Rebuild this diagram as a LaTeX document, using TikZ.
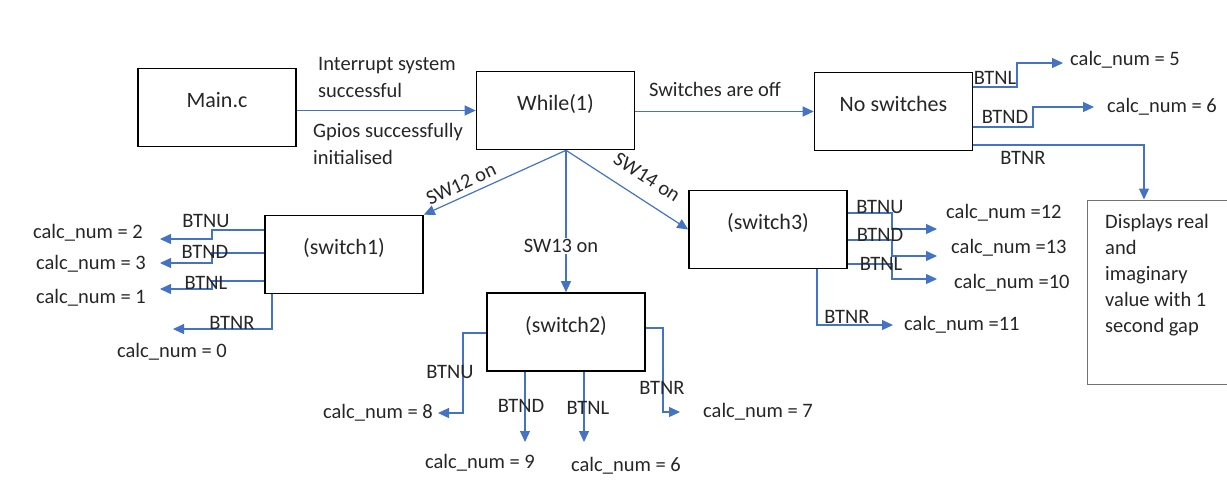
\documentclass[tikz,border=0pt]{standalone}
\usepackage{fontspec}
\setmainfont{Carlito}
\usetikzlibrary{arrows.meta}
\definecolor{lnblue}{HTML}{4472C4}
\definecolor{txtgray}{HTML}{262626}
\tikzstyle{blk}=[draw=black, line width=1.6pt, minimum width=158pt, minimum height=78pt, text=txtgray, font=\fontsize{22}{26}\selectfont, text height=15pt, text depth=15pt]
\tikzstyle{dispbox}=[draw=black!55, line width=1pt, minimum width=153pt, minimum height=184pt]
\tikzstyle{txt}=[inner sep=0pt, text=txtgray, font=\fontsize{20.5}{27}\selectfont]
\tikzstyle{link}=[-{Triangle[length=11pt,width=10pt]}, lnblue, line width=1.2pt]

\begin{document}
\begin{tikzpicture}[x=1pt, y=-1pt]
  \useasboundingbox (0,0) rectangle (1227,491);
  % blocks
  \node[blk] (main) at (217,107.5) {Main.c};
  \node[blk] (whl) at (555.5,110.5) {While(1)};
  \node[blk] (nosw) at (893.5,111.5) {No switches};
  \node[blk] (s1) at (344,254.5) {(switch1)};
  \node[blk] (s2) at (566,332) {(switch2)};
  \node[blk] (s3) at (768,229.5) {(switch3)};
  \node[dispbox] (disp) at (1163.5,292) {};
  \node[txt, anchor=north west, align=left, font=\fontsize{20.5}{26}\selectfont] (disptxt) at (1105,214) {Displays real\\and\\imaginary\\value with 1\\second gap};

  % main flow
  \draw[link] (main.east |- whl.west) -- (whl.west);
  \draw[link] (whl.east |- nosw.west) -- (nosw.west);
  \node[txt, anchor=north west, align=left] (intr) at (318,57) {Interrupt system\\successful};
  \node[txt, anchor=north west, align=left] (gpio) at (313,123) {Gpios successfully\\initialised};
  \node[txt] (swoff) at (715,89) {Switches are off};

  % switch branches
  \coordinate (fork) at (whl.south -| s2.north);
  \draw[link] (fork) -- (s1.north east);
  \draw[link] (fork) -- (s2.north);
  \draw[link] (fork) -- (s3.west);
  \node[txt, rotate=25] (sw12) at (461,184) {SW12 on};
  \node[txt, fill=white, inner sep=1pt] (sw13) at (561,246) {SW13 on};
  \node[txt, rotate=-33] (sw14) at (647,177) {SW14 on};

  % no switches
  \coordinate (nl) at (1017,87);  \coordinate (nlend) at (1063,63);
  \coordinate (nd) at (1033,127); \coordinate (ndend) at (1094,107);
  \coordinate (nr) at (1144,145);
  \draw[link] (nosw.east |- nl) -- (nl) |- (nlend);
  \draw[link] (nosw.east |- nd) -- (nd) |- (ndend);
  \draw[link] (nosw.east |- nr) -- (nr) -- (nr |- disp.north);
  \node[txt] (nbtnl) at (995,78) {BTNL};
  \node[txt] (nbtnd) at (1005,117) {BTND};
  \node[txt] (nbtnr) at (1023,158) {BTNR};
  \node[txt, anchor=west] (c5) at (1070,60) {calc\_num = 5};
  \node[txt, anchor=west] (c6a) at (1107,107) {calc\_num = 6};

  % switch1
  \foreach \k/\ya/\yb in {u/230/239, d/253/263, l/281/289} {%
    \coordinate (\k1a) at (212,\ya);
    \coordinate (\k1b) at (160,\yb);
    \draw[link] (s1.west |- \k1a) -- (\k1a) |- (\k1b);
  }
  \coordinate (r1a) at (272,329); \coordinate (r1b) at (173,329);
  \draw[link] (s1.south -| r1a) -- (r1a) -- (r1b);
  \node[txt] (btnu1) at (206,221) {BTNU};
  \node[txt] (btnd1) at (205,252) {BTND};
  \node[txt] (btnl1) at (206,283) {BTNL};
  \node[txt] (btnr1) at (232,323) {BTNR};
  \node[txt, anchor=east] (c2) at (143,233) {calc\_num = 2};
  \node[txt, anchor=east] (c3) at (146,264) {calc\_num = 3};
  \node[txt, anchor=east] (c1) at (146,298) {calc\_num = 1};
  \node[txt] (c0) at (172,352) {calc\_num = 0};

  % switch2
  \coordinate (u2a) at (463,333); \coordinate (u2b) at (438,413);
  \coordinate (d2) at (525,442);  \coordinate (l2) at (584,442);
  \coordinate (r2a) at (663,328); \coordinate (r2b) at (680,412);
  \draw[link] (s2.west |- u2a) -- (u2a) |- (u2b);
  \draw[link] (s2.south -| d2) -- (d2);
  \draw[link] (s2.south -| l2) -- (l2);
  \draw[link] (s2.east |- r2a) -- (r2a) |- (r2b);
  \node[txt] (btnu2) at (450,372) {BTNU};
  \node[txt] (btnd2) at (521,406) {BTND};
  \node[txt] (btnl2) at (588,408) {BTNL};
  \node[txt] (btnr2) at (662,388) {BTNR};
  \node[txt, anchor=east] (c8) at (433,413) {calc\_num = 8};
  \node[txt] (c9) at (480,463) {calc\_num = 9};
  \node[txt] (c6b) at (626,466) {calc\_num = 6};
  \node[txt, anchor=west] (c7) at (703,412) {calc\_num = 7};

  % switch3
  \foreach \k/\ya/\yb in {u/213/229, d/240/256, l/264/279} {%
    \coordinate (\k3a) at (892,\ya);
    \coordinate (\k3b) at (937,\yb);
    \draw[link] (s3.east |- \k3a) -- (\k3a) |- (\k3b);
  }
  \coordinate (r3a) at (817,325); \coordinate (r3b) at (893,325);
  \draw[link] (s3.south -| r3a) -- (r3a) -- (r3b);
  \node[txt] (btnu3) at (880,207) {BTNU};
  \node[txt] (btnd3) at (880,235) {BTND};
  \node[txt] (btnl3) at (881,264) {BTNL};
  \node[txt] (btnr3) at (847,317) {BTNR};
  \node[txt, anchor=west] (c12) at (946,213) {calc\_num =12};
  \node[txt, anchor=west] (c13) at (951,248) {calc\_num =13};
  \node[txt, anchor=west] (c10) at (954,283) {calc\_num =10};
  \node[txt, anchor=west] (c11) at (904,325) {calc\_num =11};
\end{tikzpicture}
\end{document}
